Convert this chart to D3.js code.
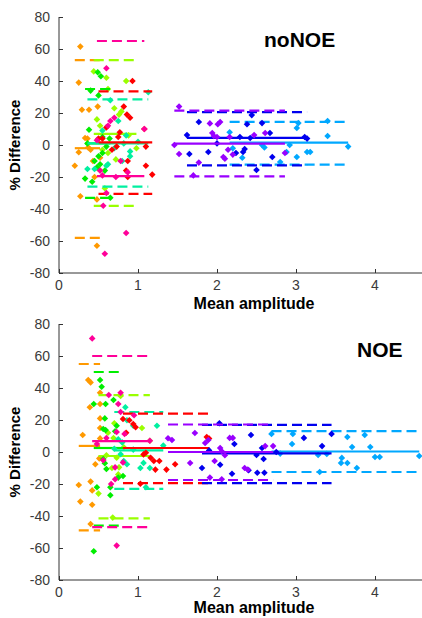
<!DOCTYPE html>
<meta charset="utf-8">
<script src="https://d3js.org/d3.v7.min.js"></script>
<style>
  body { margin: 0; background: #fff; }
  text { font-family: "Liberation Sans", Arial, sans-serif; }
</style>
<body>
<script type="text/javascript">

// series order + colours (one per subject)
var seriesNames = ["orange", "yellowgreen", "green", "aqua", "red", "magenta", "sky", "blue", "purple"];
var seriesColors = ["#ff9900", "#99ff00", "#00ee00", "#00f0a0", "#ff0000", "#ff0099", "#00a8ff", "#0000ee", "#9900ff"];

var yTicks = [-80, -60, -40, -20, 0, 20, 40, 60, 80];
var xTicks = [0, 1, 2, 3, 4];

// ---- noNOE : points [mean amplitude, % difference]
var noNOE_orange = [[0.27,61.5],[0.25,39],[0.29,22],[0.38,22],[0.49,24],[0.2,-13],[0.25,-4.5],[0.27,-32],[0.48,-34],[0.48,-63],[0.33,4.4],[0.37,-1.5],[0.43,-10],[0.52,-8],[0.36,4],[0.45,-20],[0.4,-3]];
var noNOE_yellowgreen = [[0.44,46],[0.6,42],[0.85,40],[0.48,16],[0.52,12],[0.62,35],[0.7,23],[0.76,19],[0.79,21],[0.5,-15],[0.58,-27],[0.98,-2],[0.72,-9],[0.88,6],[0.62,-5],[0.55,-3]];
var noNOE_green = [[0.49,45.5],[0.53,43],[0.4,34],[0.5,31],[0.38,9.5],[0.45,-10],[0.5,-7],[0.55,-5],[0.6,-1],[0.48,-14],[0.42,-23],[0.33,-21],[0.55,5],[0.64,4],[0.52,-12],[0.58,-16],[0.65,-33],[0.36,1]];
var noNOE_aqua = [[1.13,33],[0.65,28],[0.75,15],[0.85,6],[0.9,-4],[0.8,-10],[0.6,-13],[0.45,-15],[0.36,-15],[0.7,-2],[1.0,2],[0.62,-12],[0.55,9],[0.82,1],[0.9,-7]];
var noNOE_red = [[0.93,40],[0.82,24],[0.86,19],[0.9,17],[0.77,8],[0.75,5],[0.6,11],[0.55,4],[1.18,-18.5],[1.1,-13],[0.87,-10],[0.85,-16],[0.87,-20],[1.08,10],[1.1,-1],[0.73,-1],[0.67,-3],[0.5,4]];
var noNOE_magenta = [[0.6,48],[0.56,-38],[0.85,-55],[0.58,-68],[0.6,-30],[1.08,10],[0.65,15],[0.7,17],[0.62,12],[0.72,-20],[0.52,-16],[0.48,3],[0.78,-10],[0.87,-17],[0.55,-19]];
var noNOE_sky = [[2.16,8],[3.4,15],[3.4,5.6],[3.66,-1],[3.18,-4.4],[3.14,-4.4],[3.03,13.7],[3.01,10.6],[3.01,-7.5],[2.88,-4.4],[2.8,-10.6],[2.57,0],[2.32,-8],[2.92,0],[2.6,-1.5],[2.2,-2]];
var noNOE_blue = [[1.77,14.4],[1.62,6.2],[1.65,-5.6],[1.89,-4.4],[2.44,18.7],[2.38,13],[2.57,13.7],[2.67,7.5],[2.35,-2.5],[2.33,-4.4],[2.24,-5],[2.7,-7.5],[2.5,-15.6],[2.29,5],[2.42,4.4],[3.11,5],[3.14,4],[2.0,1]];
var noNOE_purple = [[1.52,24],[1.46,0],[1.52,-5.6],[1.91,13.5],[2.01,13],[2.04,14.4],[1.94,7.5],[1.96,5.6],[2.08,-7.5],[2.1,-8.6],[2.14,-3],[2.47,6.2],[2.61,7.5],[2.86,-5],[1.7,-19],[1.77,-11],[2.16,5],[2.0,5],[2.2,-6]];
// bias and limits of agreement, same order as seriesNames
var noNOE_mean  = [-2, 7, 1, 1, 1.7, -19.5, 1.5, 4.4, 0.8];
var noNOE_upper = [53, 53, 35, 28.5, 33.5, 65, 14.5, 20.6, 21.5];
var noNOE_lower = [-58, -38, -33, -26, -30.5, -104, -12.3, -12.7, -19.6];

// ---- NOE
var NOE_orange = [[0.25,-20.6],[0.27,-31],[0.3,10.6],[0.37,45],[0.4,43.5],[0.39,28],[0.4,-18.5],[0.42,-24],[0.42,-33],[0.4,-45],[0.46,-7.7],[0.52,37],[0.52,30],[0.52,21],[0.52,15],[0.52,8.5],[0.51,-4]];
var NOE_yellowgreen = [[0.5,-26],[0.67,-10],[0.73,-3.6],[0.76,-9.6],[0.69,8.7],[0.7,18],[1.05,15],[1.15,7],[0.68,-41],[0.6,-2],[0.78,35],[0.75,-14],[0.62,12],[0.82,3]];
var NOE_green = [[0.52,45],[0.54,40.8],[0.44,30],[0.59,30],[0.58,21],[0.56,14.4],[0.59,13.7],[0.56,-4.4],[0.58,-7],[0.6,-10.6],[0.48,-22],[0.65,-22],[0.65,-27],[0.44,-62],[0.69,32.5],[0.73,16.4],[0.81,-15],[0.75,-16],[0.71,13]];
var NOE_aqua = [[0.84,28],[0.86,19.8],[0.94,16.4],[0.75,8],[0.8,6],[0.78,-1.4],[0.82,-5.6],[0.86,-7.7],[0.94,1.5],[1.03,-10],[1.07,-6.8],[1.1,-22],[1.24,16.4],[1.32,4],[1.15,-10],[0.7,2]];
var NOE_red = [[0.81,20.6],[0.89,19.8],[0.94,17.5],[0.97,15.5],[1.07,-1.5],[1.1,-0.5],[1.16,-3.6],[1.2,-5.6],[1.27,-5.6],[1.22,-11],[1.36,-11],[1.47,-7.7],[1.87,9.4],[1.9,8.4],[1.03,-19.8],[0.85,12]];
var NOE_magenta = [[0.42,71],[0.63,35.6],[0.78,37],[0.75,30],[0.78,25],[0.73,12.5],[0.83,11.3],[0.6,8.7],[0.56,-5.2],[0.66,-20],[0.71,-9.6],[0.71,-17],[0.73,-58.5],[0.81,-6.5],[1.15,7],[0.95,23],[0.48,5]];
var NOE_sky = [[2.69,11.3],[2.96,11.3],[2.95,5],[3.65,9.4],[3.87,10.6],[3.71,3.1],[3.94,3.1],[4.06,-3.1],[4.0,-3.1],[3.58,-3.7],[3.65,-6.9],[3.57,-6.9],[3.77,-10],[4.56,-2.5],[3.28,-1.9],[3.39,-1.2],[3.3,-12.5],[2.8,-1]];
var NOE_blue = [[2.03,18],[2.22,5],[1.81,-10],[2.04,-8],[2.19,-13.6],[2.4,-11.4],[2.43,10.6],[2.5,-1.9],[2.51,-13],[2.57,2.5],[2.6,-13],[2.59,-4.4],[3.1,8.8],[3.33,3.7],[3.45,11.3],[2.75,0],[1.9,1]];
var NOE_purple = [[1.38,8.6],[1.43,7.5],[1.72,11.9],[1.66,-6.9],[1.85,5.6],[1.89,7.5],[1.97,-5.6],[2.04,2.5],[2.06,0.5],[2.16,8.8],[2.2,8.8],[2.35,-10],[2.39,-11],[2.61,3.7],[2.71,3.7],[1.91,-16],[2.06,-17],[2.1,-2]];
var NOE_mean  = [3.8, -2.5, 2.5, 1, 2.5, 6.8, 0.3, -0.8, 0];
var NOE_upper = [55, 35.5, 50, 25, 24, 60, 13, 17, 17.2];
var NOE_lower = [-49, -41.5, -46, -23, -19.5, -47, -12.5, -19.5, -17.5];

var W = 422, H = 618;
var svg = d3.select("body").append("svg")
    .attr("width", W)
    .attr("height", H);

// small square diamond marker
var diamond = "M0,-3.3L3.3,0L0,3.3L-3.3,0Z";

// draw one Bland-Altman panel
function drawPanel(top, bottom, title, titleX, titleY, pts, means, uppers, lowers, labelY, id) {
  var x = d3.scaleLinear().domain([0, 5]).range([59, 59 + 79 * 5]);
  var y = d3.scaleLinear().domain([-80, 80]).range([bottom, top]);

  var g = svg.append("g");

  svg.append("clipPath").attr("id", "clip" + id)
    .append("rect")
      .attr("x", 59).attr("y", top)
      .attr("width", W - 59).attr("height", bottom - top);

  var plot = g.append("g").attr("clip-path", "url(#clip" + id + ")");

  seriesNames.forEach(function(name, i) {
    var data = pts[i];
    var col = seriesColors[i];
    var ext = d3.extent(data, function(d) { return d[0]; });
    var sg = plot.append("g").attr("class", "series " + name);

    sg.selectAll("path.pt")
      .data(data)
      .enter().append("path")
        .attr("class", "pt")
        .attr("d", diamond)
        .attr("transform", function(d) { return "translate(" + x(d[0]) + "," + y(d[1]) + ")"; })
        .attr("fill", col);

    // mean line
    sg.append("line")
      .attr("x1", x(ext[0])).attr("x2", x(ext[1]))
      .attr("y1", y(means[i])).attr("y2", y(means[i]))
      .attr("stroke", col).attr("stroke-width", 2.2);

    // limits of agreement
    [uppers[i], lowers[i]].forEach(function(v) {
      sg.append("line")
        .attr("x1", x(ext[0])).attr("x2", x(ext[1]))
        .attr("y1", y(v)).attr("y2", y(v))
        .attr("stroke", col).attr("stroke-width", 2.2)
        .attr("stroke-dasharray", "10,5");
    });
  });

  // axes, matlab style (ticks pointing inward)
  var yAxis = g.append("g")
    .attr("transform", "translate(59,0)")
    .call(d3.axisRight(y).tickValues(yTicks).tickSize(4).tickFormat(""));
  yAxis.select(".domain").attr("d", "M0," + top + "V" + bottom);
  yAxis.selectAll("line, path").attr("stroke", "#333");

  g.selectAll(".ylab")
    .data(yTicks)
    .enter().append("text")
      .attr("class", "ylab")
      .attr("x", 50)
      .attr("y", function(d) { return y(d); })
      .attr("dy", "0.36em")
      .attr("text-anchor", "end")
      .style("font-size", "14px")
      .style("fill", "#3a3a3a")
      .text(function(d) { return d; });

  var xAxis = g.append("g")
    .attr("transform", "translate(0," + bottom + ")")
    .call(d3.axisTop(x).tickValues(xTicks).tickSize(4).tickFormat(""));
  xAxis.select(".domain").attr("d", "M59,0H" + W);
  xAxis.selectAll("line, path").attr("stroke", "#333");

  g.selectAll(".xlab")
    .data(xTicks)
    .enter().append("text")
      .attr("class", "xlab")
      .attr("x", function(d) { return x(d); })
      .attr("y", bottom + 17)
      .attr("text-anchor", "middle")
      .style("font-size", "14px")
      .style("fill", "#3a3a3a")
      .text(function(d) { return d; });

  g.append("text")
    .attr("transform", "translate(20," + ((top + bottom) / 2) + ") rotate(-90)")
    .attr("text-anchor", "middle")
    .style("font-size", "15px")
    .style("font-weight", "bold")
    .text("% Difference");

  g.append("text")
    .attr("x", 254)
    .attr("y", labelY)
    .attr("text-anchor", "middle")
    .style("font-size", "16px")
    .style("font-weight", "bold")
    .text("Mean amplitude");

  g.append("text")
    .attr("x", titleX)
    .attr("y", titleY)
    .style("font-size", "21px")
    .style("font-weight", "bold")
    .text(title);
}

drawPanel(17, 273, "noNOE", 264, 47,
  [noNOE_orange, noNOE_yellowgreen, noNOE_green, noNOE_aqua, noNOE_red, noNOE_magenta, noNOE_sky, noNOE_blue, noNOE_purple],
  noNOE_mean, noNOE_upper, noNOE_lower, 309, "a");

drawPanel(324, 580, "NOE", 357, 357,
  [NOE_orange, NOE_yellowgreen, NOE_green, NOE_aqua, NOE_red, NOE_magenta, NOE_sky, NOE_blue, NOE_purple],
  NOE_mean, NOE_upper, NOE_lower, 613, "b");

</script>
</body>
</html>
